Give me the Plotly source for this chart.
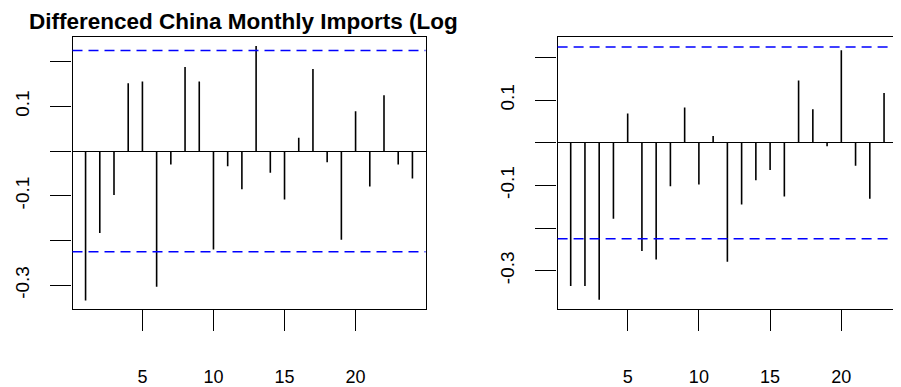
import plotly.graph_objects as go

# ---- data ----
lags = list(range(1, 25))
acf_vals = [-0.334, -0.183, -0.098, 0.152, 0.156, -0.303, -0.030, 0.188, 0.156, -0.220,
            -0.034, -0.085, 0.235, -0.048, -0.108, 0.030, 0.184, -0.025, -0.198, 0.089,
            -0.079, 0.125, -0.030, -0.061]
pacf_vals = [-0.336, -0.336, -0.368, -0.178, 0.069, -0.254, -0.274, -0.102, 0.083, -0.098,
             0.016, -0.279, -0.145, -0.088, -0.064, -0.126, 0.146, 0.079, -0.008, 0.217,
             -0.054, -0.131, 0.117, -0.026]
conf_limit = 0.225
x_tick_vals = [5, 10, 15, 20]
y_tick_vals = [-0.3, -0.2, -0.1, 0.0, 0.1, 0.2]
y_tick_text = ["-0.3", "", "-0.1", "", "0.1", ""]
title_text = "Differenced China Monthly Imports (Log"

# page has an 8px body margin: figure fills the rest of the 901x387 window
OFF = 8
W, H = 901 - OFF, 387 - OFF
FONT = "Liberation Sans, Arial, sans-serif"


def sx_(p):  # screen x pixel -> paper
    return (p - OFF) / W


def sy_(p):  # screen y pixel -> paper
    return 1 - (p - OFF) / H


def stems(xv, yv):
    xs, ys = [], []
    for a, b in zip(xv, yv):
        xs += [a, a, None]
        ys += [0, b, None]
    return xs, ys


fig = go.Figure()
for vals, xa, ya in [(acf_vals, "x", "y"), (pacf_vals, "x2", "y2")]:
    px, py = stems(lags, vals)
    fig.add_trace(go.Scatter(x=px, y=py, mode="lines", xaxis=xa, yaxis=ya,
                             line=dict(color="black", width=1.6),
                             hoverinfo="skip", showlegend=False))
    for c in (conf_limit, -conf_limit):
        fig.add_shape(type="line", xref=f"{xa} domain", yref=ya, x0=0, x1=1, y0=c, y1=c,
                      line=dict(color="#0000FF", width=1.4, dash="10px,6px"))

ydom = [sy_(309), sy_(36.7)]
common_x = dict(tickvals=x_tick_vals, ticks="outside", ticklen=21, tickwidth=1.3,
                tickcolor="black", showline=True, linecolor="black", linewidth=1.3,
                showgrid=False, zeroline=False, automargin=False,
                tickfont=dict(family=FONT, size=18, color="black"),
                ticklabelstandoff=30)
common_y = dict(tickvals=y_tick_vals, ticktext=y_tick_text, tickangle=-90,
                ticks="outside", ticklen=21, tickwidth=1.3, tickcolor="black",
                showline=True, linecolor="black", linewidth=1.3, showgrid=False,
                zeroline=True, zerolinecolor="black", zerolinewidth=1.3,
                automargin=False, tickfont=dict(family=FONT, size=19, color="black"),
                ticklabelstandoff=14)

fig.update_layout(
    width=W, height=H, autosize=False,
    margin=dict(l=0, r=0, t=0, b=0),
    paper_bgcolor="white", plot_bgcolor="white",
    xaxis=dict(domain=[sx_(72.5), sx_(425.5)], range=[0.08, 24.92], mirror=True,
               anchor="y", **common_x),
    yaxis=dict(domain=ydom, range=[-0.353, 0.256], mirror=True, anchor="x", **common_y),
    xaxis2=dict(domain=[sx_(557.6), 1.0], range=[0.08, 24.19], mirror=True,
                anchor="y2", **common_x),
    yaxis2=dict(domain=ydom, range=[-0.390, 0.249], mirror=False, anchor="x2", **common_y),
    annotations=[dict(text="<b>" + title_text + "</b>", xref="paper", yref="paper",
                      x=sx_(244), y=sy_(21), xanchor="center", yanchor="middle",
                      showarrow=False, font=dict(family=FONT, size=22.5, color="black"))],
)

fig.write_html("out.html")
